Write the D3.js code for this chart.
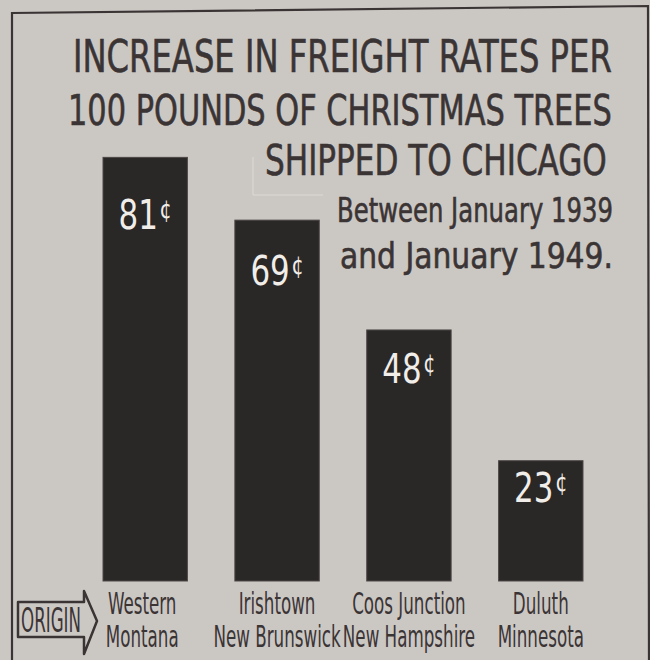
<!DOCTYPE html>
<html>
<head>
<meta charset="utf-8">
<script src="https://cdn.jsdelivr.net/npm/d3@7"></script>
<style>
  html, body { margin: 0; padding: 0; background: #cbc8c4; }
  svg { display: block; }
</style>
</head>
<body>
<div id="chart"></div>
<script>
// ---- data ----
const originLine1 = ["Western", "Irishtown", "Coos Junction", "Duluth"];
const originLine2 = ["Montana", "New Brunswick", "New Hampshire", "Minnesota"];
const increaseCents = [81, 69, 48, 23];
const titleLines = [
  "INCREASE IN FREIGHT RATES PER",
  "100 POUNDS OF CHRISTMAS TREES",
  "SHIPPED TO CHICAGO"
];
const subtitleLines = ["Between January 1939", "and January 1949."];
const originLabel = "ORIGIN";

// ---- setup ----
const W = 650, H = 660;
const ink = "#3b3435";
const barFill = "#2a2727";
const font = "'DejaVu Sans Condensed', 'DejaVu Sans', sans-serif";

const svg = d3.select("#chart").append("svg")
  .attr("width", W).attr("height", H)
  .style("background", "#cbc8c4");

// place a text so it starts at x0 and spans `len` px horizontally
function fitText(sel, x0, base, len) {
  const w = sel.node().getComputedTextLength();
  sel.attr("x", 0).attr("y", 0)
     .attr("transform", `translate(${x0},${base}) scale(${len / w},1)`);
  return sel;
}

// frame (slightly skewed, as in the paste-up)
svg.append("path")
  .attr("d", "M12,670 L12,13 L648,6 L649,670")
  .attr("fill", "none").attr("stroke", ink).attr("stroke-width", 2.2);

// faint paste-up edge near title
svg.append("path")
  .attr("d", "M253,157 L253,195 L323,195")
  .attr("fill", "none").attr("stroke", "#dddad6").attr("stroke-width", 1);

// ---- scales ----
const x = d3.scaleBand()
  .domain(d3.range(increaseCents.length))
  .range([103, 583])
  .paddingInner(0.36)
  .paddingOuter(0);
const y = d3.scaleLinear().domain([0, 100]).range([581, 58]);

// ---- title ----
const titleSpecs = [
  { x: 73, base: 72, len: 539, size: 44 },
  { x: 68, base: 125, len: 544, size: 42 },
  { x: 265, base: 175, len: 342, size: 43 }
];
titleLines.forEach((t, i) => {
  const s = titleSpecs[i];
  const el = svg.append("text")
    .attr("font-family", font).attr("font-size", s.size)
    .attr("fill", ink).attr("stroke", ink).attr("stroke-width", 0.6)
    .text(t);
  fitText(el, s.x, s.base, s.len);
});
const subSpecs = [
  { x: 337, base: 222, len: 276, size: 34 },
  { x: 340, base: 268, len: 273, size: 35 }
];
subtitleLines.forEach((t, i) => {
  const s = subSpecs[i];
  const el = svg.append("text")
    .attr("font-family", font).attr("font-size", s.size)
    .attr("fill", ink).attr("stroke", ink).attr("stroke-width", 0.6)
    .text(t);
  fitText(el, s.x, s.base, s.len);
});

// ---- bars ----
svg.selectAll("rect.bar")
  .data(increaseCents)
  .join("rect")
  .attr("class", "bar")
  .attr("x", (d, i) => x(i))
  .attr("y", d => y(d))
  .attr("width", x.bandwidth())
  .attr("height", d => y(0) - y(d))
  .attr("fill", barFill)
  .attr("stroke", "#4d4848")
  .attr("stroke-width", 1);

// value labels
const vl = svg.selectAll("text.val")
  .data(increaseCents)
  .join("text")
  .attr("class", "val")
  .attr("transform", (d, i) => {
    const h = y(0) - y(d);
    const off = Math.max(10, 0.107 * h - 5);
    return `translate(${x(i) + x.bandwidth() / 2},${y(d) + off + 31}) scale(0.86,1)`;
  })
  .attr("text-anchor", "middle")
  .attr("font-family", font)
  .attr("font-size", 40)
  .attr("fill", "#f1eee9");
vl.append("tspan").text(d => d);
vl.append("tspan").attr("font-size", 25).attr("dy", -11).attr("dx", 2).text("¢");

// category labels
[originLine1, originLine2].forEach((lines, li) => {
  svg.selectAll("text.cat" + li)
    .data(lines)
    .join("text")
    .attr("class", "cat" + li)
    .attr("transform", (d, i) =>
      `translate(${x(i) + x.bandwidth() / 2 - (i === 0 ? 3 : 0)},${li === 0 ? 614 : 647}) scale(0.62,1)`)
    .attr("text-anchor", "middle")
    .attr("font-family", font)
    .attr("font-size", 30)
    .attr("fill", ink)
    .text(d => d);
});

// ORIGIN arrow box
svg.append("path")
  .attr("d", "M18,602 L84,602 L84,591 L97,621 L84,654 L84,637 L18,637 Z")
  .attr("fill", "none").attr("stroke", ink).attr("stroke-width", 2.5)
  .attr("stroke-linejoin", "round");
const org = svg.append("text")
  .attr("font-family", font).attr("font-size", 33)
  .attr("fill", ink)
  .text(originLabel);
fitText(org, 21, 632, 60);
</script>
</body>
</html>
